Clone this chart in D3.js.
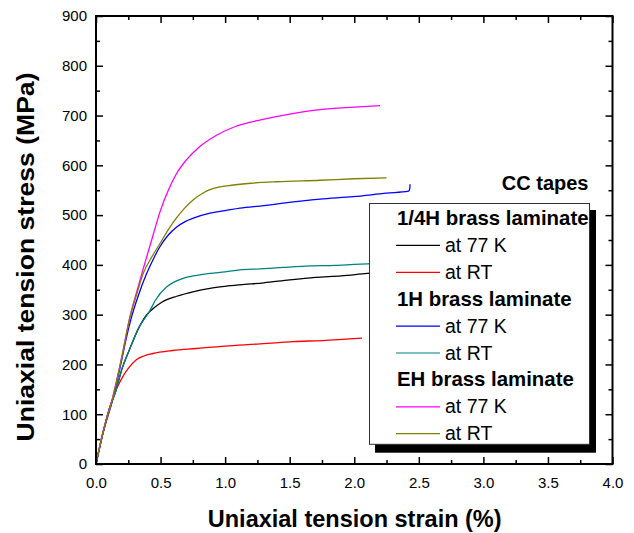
<!DOCTYPE html>
<html>
<head>
<meta charset="utf-8">
<script src="https://cdn.jsdelivr.net/npm/d3@7/dist/d3.min.js"></script>
<style>
    body { margin: 0; background: #fff; }
    text { font-family: "Liberation Sans", Arial, sans-serif; }
</style>
</head>
<body>
<script>
// strain (%) / stress (MPa)
var quarterH77 = [[0,0],[0.05,58],[0.1,108],[0.155,148],[0.2,190],[0.258,229],[0.336,276],[0.393,300],[0.45,314],[0.51,325],[0.625,337],[0.75,346],[0.883,353],[1.0,357],[1.115,360],[1.3,364],[1.5,370],[1.7,375],[1.9,378],[2.1,383],[2.2,385]];
var quarterHRT = [[0,0],[0.05,58],[0.1,108],[0.155,148],[0.206,175],[0.25,192],[0.31,209],[0.37,217],[0.439,222],[0.594,228],[0.775,232],[1.0,237],[1.25,241],[1.53,246],[1.75,248],[2.06,253]];
var oneH77 = [[0,0],[0.05,58],[0.13,130],[0.2,210],[0.232,250],[0.276,296],[0.33,340],[0.393,383],[0.45,415],[0.496,437],[0.56,460],[0.625,476],[0.69,487],[0.754,494],[0.883,504],[1.0,509],[1.115,514],[1.3,519],[1.45,524],[1.735,532],[1.99,537],[2.25,544],[2.42,548],[2.43,553],[2.432,562]];
var oneHRT = [[0,0],[0.05,58],[0.1,108],[0.155,148],[0.2,190],[0.258,229],[0.336,276],[0.413,306],[0.46,329],[0.548,356],[0.6,365],[0.676,373],[0.78,379],[0.883,383],[1.0,386],[1.115,390],[1.27,392],[1.45,395],[1.66,398],[1.85,399],[2.0,401],[2.2,403]];
var eh77 = [[0,0],[0.05,60],[0.13,135],[0.2,215],[0.258,290],[0.32,350],[0.38,405],[0.44,458],[0.5,510],[0.56,550],[0.625,584],[0.7,611],[0.8,637],[0.93,660],[1.06,676],[1.2,687],[1.32,694],[1.5,703],[1.735,712],[2.0,717],[2.2,720]];
var ehRT = [[0,0],[0.05,60],[0.13,133],[0.2,215],[0.263,295],[0.32,345],[0.366,383],[0.43,415],[0.496,443],[0.56,471],[0.625,495],[0.69,515],[0.754,531],[0.82,543],[0.883,551],[0.95,556],[1.05,560],[1.2,564],[1.4,567],[1.735,570],[2.0,573],[2.25,575]];

var groupNames = ['1/4H brass laminate', '1H brass laminate', 'EH brass laminate'];
var seriesLabels = ['at 77 K', 'at RT'];
var seriesData = [[quarterH77, quarterHRT], [oneH77, oneHRT], [eh77, ehRT]];
var seriesColors = [['#000000', '#ff0000'], ['#0000ff', '#008080'], ['#ff00ff', '#808000']];

var xTicks = [0, 0.5, 1.0, 1.5, 2.0, 2.5, 3.0, 3.5, 4.0];
var yTicks = [0, 100, 200, 300, 400, 500, 600, 700, 800, 900];

(function() {
    var w = 634,
        h = 533,
        left = 96, right = 612.5, top = 16, bottom = 464;

    var svg = d3.select('body')
        .append('svg')
        .attr('width', w)
        .attr('height', h);

    var x = d3.scaleLinear().domain([0, 4]).range([left, right]);
    var y = d3.scaleLinear().domain([0, 900]).range([bottom, top]);

    var xMinor = d3.range(0.25, 4, 0.5);
    var yMinor = d3.range(50, 900, 100);

    // curves
    var line = d3.line()
        .x(function(d) { return x(d[0]); })
        .y(function(d) { return y(d[1]); })
        .curve(d3.curveMonotoneX);

    seriesData.forEach(function(group, gi) {
        group.forEach(function(pts, si) {
            svg.append('path')
                .datum(pts)
                .attr('d', line)
                .attr('fill', 'none')
                .attr('stroke', seriesColors[gi][si])
                .attr('stroke-width', 1.3);
        });
    });

    // axes, ticks pointing inward
    function styleAxis(g, labels) {
        g.select('.domain').remove();
        g.selectAll('.tick line').attr('stroke', '#000').attr('stroke-width', 1.5);
        g.selectAll('.tick text')
            .attr('fill', '#000')
            .style('font-size', '15px')
            .style('font-family', '"Liberation Sans", Arial, sans-serif');
        if (!labels) g.selectAll('.tick text').remove();
    }

    svg.append('g')
        .attr('transform', 'translate(0,' + bottom + ')')
        .call(d3.axisBottom(x).tickValues(xTicks).tickSize(-7).tickPadding(13).tickFormat(d3.format('.1f')))
        .call(styleAxis, true);
    svg.append('g')
        .attr('transform', 'translate(0,' + bottom + ')')
        .call(d3.axisBottom(x).tickValues(xMinor).tickSize(-4))
        .call(styleAxis, false);
    svg.append('g')
        .attr('transform', 'translate(0,' + top + ')')
        .call(d3.axisTop(x).tickValues(xTicks).tickSize(-7))
        .call(styleAxis, false);
    svg.append('g')
        .attr('transform', 'translate(0,' + top + ')')
        .call(d3.axisTop(x).tickValues(xMinor).tickSize(-4))
        .call(styleAxis, false);

    svg.append('g')
        .attr('transform', 'translate(' + left + ',0)')
        .call(d3.axisLeft(y).tickValues(yTicks).tickSize(-7).tickPadding(9))
        .call(styleAxis, true);
    svg.append('g')
        .attr('transform', 'translate(' + left + ',0)')
        .call(d3.axisLeft(y).tickValues(yMinor).tickSize(-4))
        .call(styleAxis, false);
    svg.append('g')
        .attr('transform', 'translate(' + right + ',0)')
        .call(d3.axisRight(y).tickValues(yTicks).tickSize(-7))
        .call(styleAxis, false);
    svg.append('g')
        .attr('transform', 'translate(' + right + ',0)')
        .call(d3.axisRight(y).tickValues(yMinor).tickSize(-4))
        .call(styleAxis, false);

    svg.append('rect')
        .attr('x', left)
        .attr('y', top)
        .attr('width', right - left)
        .attr('height', bottom - top)
        .attr('fill', 'none')
        .attr('stroke', '#000')
        .attr('stroke-width', 2);

    // axis titles
    svg.append('text')
        .attr('x', 354.7)
        .attr('y', 526.5)
        .attr('text-anchor', 'middle')
        .style('font-size', '23.5px')
        .style('font-weight', 'bold')
        .text('Uniaxial tension strain (%)');
    // the y title is drawn stretched in the original
    svg.append('text')
        .attr('transform', 'translate(34,257) rotate(-90)')
        .attr('text-anchor', 'middle')
        .attr('textLength', 369)
        .attr('lengthAdjust', 'spacingAndGlyphs')
        .style('font-size', '23.5px')
        .style('font-weight', 'bold')
        .text('Uniaxial tension stress (MPa)');

    svg.append('text')
        .attr('x', 588.5)
        .attr('y', 189.5)
        .attr('text-anchor', 'end')
        .style('font-size', '20px')
        .style('font-weight', 'bold')
        .text('CC tapes');

    // legend with drop shadow
    var lg = svg.append('g');
    lg.append('rect')
        .attr('x', 375).attr('y', 210)
        .attr('width', 221).attr('height', 242.7)
        .attr('fill', '#000');
    lg.append('rect')
        .attr('x', 369.5).attr('y', 203.5)
        .attr('width', 220).attr('height', 240.8)
        .attr('fill', '#fff')
        .attr('stroke', '#333')
        .attr('stroke-width', 1);

    var row = 0, rowH = 26.9, base = 225;
    groupNames.forEach(function(name, gi) {
        lg.append('text')
            .attr('x', 397)
            .attr('y', base + row * rowH)
            .style('font-size', '20.4px')
            .style('font-weight', 'bold')
            .text(name);
        row++;
        seriesLabels.forEach(function(lab, si) {
            var by = base + row * rowH;
            lg.append('line')
                .attr('x1', 396).attr('x2', 440)
                .attr('y1', by - 6.5).attr('y2', by - 6.5)
                .attr('stroke', seriesColors[gi][si])
                .attr('stroke-width', 1.2);
            lg.append('text')
                .attr('x', 445)
                .attr('y', by)
                .style('font-size', '19.5px')
                .text(lab);
            row++;
        });
    });
})();
</script>
</body>
</html>
